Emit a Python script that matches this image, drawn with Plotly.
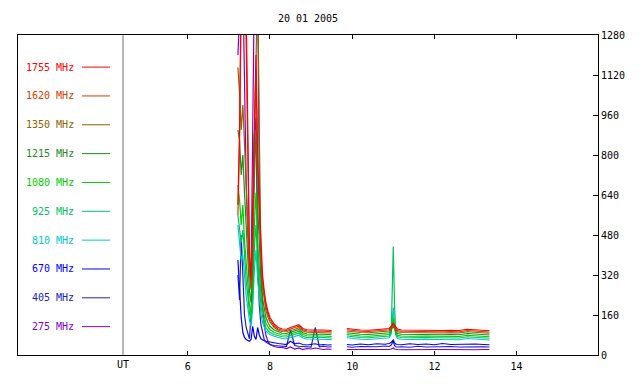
import plotly.graph_objects as go

# ---------------- data ----------------
title_text = "20 01 2005"

# time (UT hours), two observing segments with a gap between them
T1 = [7.22, 7.26, 7.30, 7.34, 7.38, 7.42, 7.46, 7.50, 7.54, 7.58, 7.62, 7.66, 7.70, 7.74,
      7.78, 7.82, 7.86, 7.90, 7.95, 8.00, 8.10, 8.20, 8.30, 8.40, 8.50, 8.60, 8.70, 8.80,
      8.90, 9.00, 9.10, 9.20, 9.30, 9.40, 9.50]
T2 = [9.87, 10.0, 10.2, 10.4, 10.6, 10.8, 10.9, 10.95, 11.0, 11.03, 11.06, 11.1, 11.2,
      11.4, 11.6, 11.8, 12.0, 12.2, 12.4, 12.6, 12.8, 13.0, 13.2, 13.34]

labels = ["1755 MHz", "1620 MHz", "1350 MHz", "1215 MHz", "1080 MHz",
          "925 MHz", "810 MHz", "670 MHz", "405 MHz", "275 MHz"]
colors = ["#ff0000", "#d03c00", "#8c6400", "#228822", "#00cc00",
          "#00c060", "#00c8c8", "#0000ff", "#2020c0", "#8000c8"]

f1755_a = [600, 900, 1500, 1500, 1500, 1400, 800, 420, 300, 550, 900, 1200, 800, 600, 420, 320,
           255, 210, 175, 150, 124, 110, 104, 103, 110, 114, 121, 106, 101, 100, 101, 99, 100, 99, 98]
f1620_a = [560, 850, 1400, 1500, 1500, 1250, 720, 380, 270, 500, 850, 1150, 750, 560, 390, 295,
           235, 195, 163, 140, 117, 104, 99, 98, 104, 108, 115, 101, 96, 95, 96, 94, 95, 94, 93]
f1350_a = [1150, 1050, 900, 1000, 850, 650, 480, 330, 260, 480, 850, 1500, 1500, 900, 380, 270,
           215, 180, 152, 132, 110, 99, 94, 93, 99, 102, 109, 96, 91, 90, 91, 89, 90, 89, 88]
f1215_a = [900, 860, 720, 800, 650, 500, 400, 260, 210, 360, 700, 900, 600, 420, 300, 225,
           180, 152, 130, 115, 100, 92, 87, 86, 92, 95, 101, 89, 84, 83, 84, 82, 83, 82, 81]
f1080_a = [680, 620, 520, 600, 460, 360, 290, 200, 165, 280, 520, 650, 450, 330, 240, 185,
           150, 128, 112, 102, 90, 84, 80, 79, 85, 88, 94, 82, 77, 76, 77, 75, 76, 75, 74]
f925_a = [560, 510, 450, 500, 380, 300, 240, 170, 140, 230, 430, 520, 370, 270, 200, 155,
          128, 110, 98, 90, 82, 77, 73, 72, 78, 81, 87, 75, 70, 70, 71, 69, 70, 69, 68]
f810_a = [520, 430, 380, 400, 300, 240, 190, 140, 115, 190, 340, 420, 300, 220, 165, 130,
          108, 96, 88, 82, 75, 70, 66, 65, 71, 74, 79, 68, 64, 63, 64, 62, 63, 62, 62]
f670_a = [380, 250, 150, 90, 70, 62, 58, 55, 62, 115, 75, 62, 110, 80, 65, 60,
          57, 55, 53, 51, 48, 46, 44, 42, 55, 45, 48, 42, 40, 41, 45, 40, 42, 40, 41]
f405_a = [320, 220, 480, 300, 160, 110, 85, 65, 160, 420, 880, 950, 380, 200, 120, 85,
          62, 52, 46, 42, 38, 36, 37, 34, 100, 38, 35, 33, 34, 32, 110, 33, 35, 32, 33]
f275_a = [1200, 1500, 1500, 1500, 1000, 700, 500, 350, 300, 800, 1500, 1500, 1500, 700, 350, 200,
          120, 80, 55, 42, 34, 30, 30, 26, 32, 24, 28, 22, 26, 24, 28, 25, 22, 24, 23]

f1755_b = [106, 103, 100, 99, 101, 102, 106, 115, 128, 118, 110, 104, 100, 99, 101, 100, 99, 98, 99, 98, 103, 100, 98, 97]
f1620_b = [101, 98, 95, 94, 96, 97, 101, 110, 122, 112, 104, 98, 95, 94, 96, 95, 94, 93, 94, 93, 98, 95, 93, 92]
f1350_b = [96, 93, 90, 89, 91, 92, 96, 106, 120, 108, 99, 93, 90, 89, 91, 90, 89, 88, 89, 88, 93, 90, 88, 87]
f1215_b = [89, 86, 83, 82, 84, 85, 89, 100, 118, 103, 93, 86, 83, 82, 84, 83, 82, 81, 82, 81, 86, 83, 81, 80]
f1080_b = [82, 79, 76, 75, 77, 78, 82, 95, 150, 110, 88, 79, 76, 75, 77, 76, 75, 74, 75, 74, 79, 76, 74, 73]
f925_b = [76, 73, 70, 69, 71, 72, 76, 92, 434, 200, 90, 73, 70, 69, 71, 70, 69, 68, 69, 68, 73, 70, 68, 67]
f810_b = [69, 66, 63, 62, 64, 65, 69, 85, 190, 120, 80, 66, 63, 62, 64, 63, 62, 61, 62, 61, 66, 63, 61, 60]
f670_b = [42, 40, 44, 41, 45, 43, 46, 50, 60, 48, 44, 42, 41, 45, 42, 44, 41, 46, 42, 43, 41, 44, 42, 41]
f405_b = [33, 31, 34, 32, 33, 36, 34, 40, 55, 38, 33, 32, 33, 31, 35, 32, 33, 31, 34, 32, 33, 31, 33, 32]
f275_b = [22, 21, 22, 22, 21, 22, 22, 24, 28, 24, 22, 22, 21, 22, 22, 21, 22, 22, 21, 22, 22, 21, 22, 22]

seg_a = [f1755_a, f1620_a, f1350_a, f1215_a, f1080_a, f925_a, f810_a, f670_a, f405_a, f275_a]
seg_b = [f1755_b, f1620_b, f1350_b, f1215_b, f1080_b, f925_b, f810_b, f670_b, f405_b, f275_b]

x_ticks = [6, 8, 10, 12, 14]
y_ticks = [0, 160, 320, 480, 640, 800, 960, 1120, 1280]

# ---------------- figure ----------------
FONT = "DejaVu Sans Mono"
W, H = 640, 384
L, R, T, B = 18, 598, 35, 359  # plot area pixel box

def px_x(p):
    return (p - L) / (R - L)

def px_y(p):
    return (B - p) / (B - T)

fig = go.Figure()
gap_t = (T1[-1] + T2[0]) / 2
xs = T1 + [gap_t] + T2
for i in reversed(range(len(labels))):
    ys = seg_a[i] + [None] + seg_b[i]
    fig.add_trace(go.Scatter(x=xs, y=ys, mode="lines", name=labels[i],
                             line=dict(color=colors[i], width=1.2),
                             connectgaps=False, showlegend=False, hoverinfo="skip"))

annotations = []
shapes = []
leg_y0, leg_dy = 67.5, 29.2
for i, (lab, col) in enumerate(zip(labels, colors)):
    py = leg_y0 + i * leg_dy
    annotations.append(dict(xref="paper", yref="paper", x=px_x(76), y=px_y(py),
                            text=lab, showarrow=False, xanchor="right", yanchor="middle",
                            font=dict(family=FONT, size=10, color=col)))
    shapes.append(dict(type="line", xref="paper", yref="paper",
                       x0=px_x(82), x1=px_x(110), y0=px_y(py), y1=px_y(py),
                       line=dict(color=col, width=1)))

# UT separator line and label
shapes.append(dict(type="line", xref="paper", yref="paper", x0=px_x(123), x1=px_x(123),
                   y0=0, y1=1, line=dict(color="#707070", width=1)))
annotations.append(dict(xref="paper", yref="paper", x=px_x(123), y=px_y(368.5), text="UT",
                        showarrow=False, xanchor="center", yanchor="middle",
                        font=dict(family=FONT, size=10, color="black")))

fig.update_layout(
    width=W, height=H,
    margin=dict(l=L, r=W - R, t=T, b=H - B, pad=0),
    paper_bgcolor="white", plot_bgcolor="white",
    font=dict(family=FONT, size=10, color="black"),
    title=dict(text=title_text, x=0.5, xref="paper", y=1 - 18 / H, yref="container",
               xanchor="center", yanchor="middle", font=dict(family=FONT, size=10)),
    annotations=annotations, shapes=shapes,
    xaxis=dict(range=[1.87, 15.98], tickvals=x_ticks, ticktext=[str(v) for v in x_ticks],
               ticks="inside", ticklen=4, tickcolor="black", showline=True, linecolor="black",
               linewidth=1, mirror="ticks", showgrid=False, zeroline=False, fixedrange=True,
               ticklabelstandoff=2),
    yaxis=dict(range=[0, 1280], tickvals=y_ticks, ticktext=[str(v) for v in y_ticks],
               side="right", ticks="inside", ticklen=5, tickcolor="black", showline=True,
               linecolor="black", linewidth=1, mirror=True, showgrid=False, zeroline=False,
               fixedrange=True),
)

fig.write_html("out.html", config={"displayModeBar": False},
               post_script="document.body.style.margin='0';document.body.style.padding='0';")
